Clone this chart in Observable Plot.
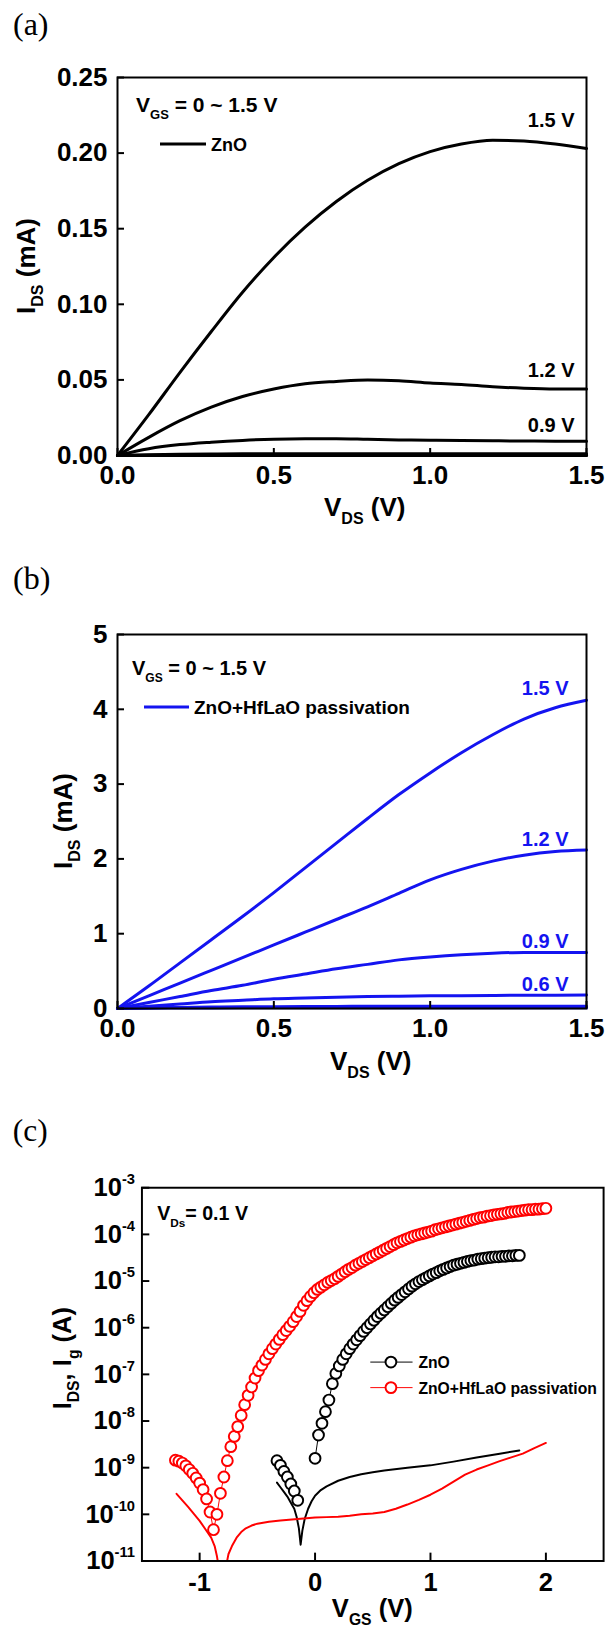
<!DOCTYPE html>
<html><head><meta charset="utf-8">
<script src="https://cdn.jsdelivr.net/npm/d3@7"></script>
<script src="https://cdn.jsdelivr.net/npm/@observablehq/plot@0.6"></script>
<style>
html,body{margin:0;padding:0;background:#fff;overflow:hidden;}
#root{position:relative;width:609px;height:1636px;overflow:hidden;background:#fff;}
.panel{position:absolute;left:0;}
</style></head><body><div id="root"></div>
<script>
const FONT = "'Liberation Sans', Arial, Helvetica, sans-serif";
const SERIF = "'Liberation Serif', 'Times New Roman', serif";
const BLUE = "#1414f0", RED = "#ff0000";

// ---------- (a) ZnO output curves, I_DS in mA ----------
const vdsA = [0, 0.1, 0.2, 0.3, 0.4, 0.5, 0.6, 0.7, 0.8, 0.9, 1.0, 1.1, 1.2, 1.3, 1.4, 1.5];
const a15 = [0, 0.027, 0.055, 0.082, 0.108, 0.131, 0.151, 0.168, 0.182, 0.193, 0.201, 0.206, 0.2085, 0.208, 0.206, 0.203];
const a12 = [0, 0.012, 0.023, 0.032, 0.039, 0.044, 0.0475, 0.049, 0.050, 0.0495, 0.048, 0.047, 0.0455, 0.0445, 0.044, 0.044];
const a09 = [0, 0.0045, 0.0072, 0.0088, 0.0100, 0.0108, 0.0111, 0.0111, 0.0107, 0.0103, 0.0101, 0.0099, 0.0097, 0.0096, 0.0095, 0.0095];
const a06 = [0, 0.0005, 0.0008, 0.001, 0.0011, 0.0012, 0.0012, 0.0012, 0.0012, 0.0012, 0.0012, 0.0012, 0.0012, 0.0012, 0.0012, 0.0012];
const a03 = [0, 0.0001, 0.0002, 0.0002, 0.0002, 0.0002, 0.0002, 0.0002, 0.0002, 0.0002, 0.0002, 0.0002, 0.0002, 0.0002, 0.0002, 0.0002];
const a00 = [0, 0, 0, 0, 0, 0, 0, 0, 0, 0, 0, 0, 0, 0, 0, 0];
const xTicksA = [0, 0.5, 1.0, 1.5];
const yTicksA = [0, 0.05, 0.10, 0.15, 0.20, 0.25];
const labelsA = ["1.5 V", "1.2 V", "0.9 V"];

// ---------- (b) ZnO + HfLaO passivation, I_DS in mA ----------
const vdsB = [0, 0.1, 0.2, 0.3, 0.4, 0.5, 0.6, 0.7, 0.8, 0.9, 1.0, 1.1, 1.2, 1.3, 1.4, 1.5];
const b15 = [0, 0.30, 0.61, 0.92, 1.23, 1.55, 1.88, 2.21, 2.54, 2.86, 3.15, 3.42, 3.66, 3.87, 4.02, 4.12];
const b12 = [0, 0.17, 0.34, 0.51, 0.68, 0.85, 1.02, 1.19, 1.36, 1.54, 1.72, 1.86, 1.97, 2.05, 2.10, 2.12];
const b09 = [0, 0.08, 0.16, 0.24, 0.31, 0.39, 0.46, 0.53, 0.59, 0.65, 0.69, 0.72, 0.74, 0.75, 0.75, 0.75];
const b06 = [0, 0.03, 0.06, 0.09, 0.11, 0.13, 0.14, 0.15, 0.16, 0.165, 0.17, 0.172, 0.175, 0.177, 0.178, 0.18];
const b03 = [0, 0.01, 0.015, 0.02, 0.022, 0.025, 0.027, 0.028, 0.029, 0.03, 0.03, 0.03, 0.03, 0.03, 0.03, 0.03];
const b00 = [0, 0.004, 0.006, 0.008, 0.009, 0.01, 0.01, 0.01, 0.01, 0.01, 0.01, 0.01, 0.01, 0.01, 0.01, 0.01];
const xTicksB = [0, 0.5, 1.0, 1.5];
const yTicksB = [0, 1, 2, 3, 4, 5];
const labelsB = ["1.5 V", "1.2 V", "0.9 V", "0.6 V"];

// ---------- (c) transfer curves, log10 of current in A ----------
const redV = [-1.21,-1.18,-1.15,-1.12,-1.09,-1.06,-1.03,-1.00,-0.97,-0.94,-0.91,-0.88,-0.85,-0.82,-0.79,-0.76,-0.73,-0.70,-0.67,-0.64,-0.61,-0.58,-0.55,-0.52,-0.49,-0.46,-0.43,-0.40,-0.37,-0.34,-0.31,-0.28,-0.25,-0.22,-0.19,-0.16,-0.13,-0.10,-0.07,-0.04,-0.01,0.02,0.05,0.08,0.11,0.14,0.17,0.20,0.23,0.26,0.29,0.32,0.35,0.38,0.41,0.44,0.47,0.50,0.53,0.56,0.59,0.62,0.65,0.68,0.71,0.74,0.77,0.80,0.83,0.86,0.89,0.92,0.95,0.98,1.01,1.04,1.07,1.10,1.13,1.16,1.19,1.22,1.25,1.28,1.31,1.34,1.37,1.40,1.43,1.46,1.49,1.52,1.55,1.58,1.61,1.64,1.67,1.70,1.73,1.76,1.79,1.82,1.85,1.88,1.91,1.94,1.97,2.00];
const redLog = [-8.84,-8.86,-8.90,-8.96,-9.04,-9.12,-9.22,-9.33,-9.47,-9.67,-9.95,-10.33,-10.0,-9.55,-9.2,-8.85,-8.55,-8.33,-8.12,-7.88,-7.65,-7.45,-7.27,-7.08,-6.92,-6.8,-6.68,-6.56,-6.45,-6.35,-6.25,-6.15,-6.06,-5.97,-5.87,-5.76,-5.65,-5.52,-5.42,-5.33,-5.25,-5.18,-5.13,-5.08,-5.03,-4.99,-4.95,-4.9,-4.85,-4.8,-4.75,-4.71,-4.66,-4.62,-4.58,-4.54,-4.5,-4.46,-4.42,-4.38,-4.34,-4.3,-4.26,-4.22,-4.18,-4.15,-4.12,-4.09,-4.06,-4.03,-4.01,-3.99,-3.97,-3.95,-3.93,-3.9,-3.88,-3.86,-3.84,-3.82,-3.8,-3.78,-3.76,-3.74,-3.72,-3.7,-3.68,-3.66,-3.64,-3.63,-3.61,-3.6,-3.58,-3.57,-3.56,-3.55,-3.53,-3.52,-3.51,-3.5,-3.49,-3.48,-3.47,-3.47,-3.46,-3.46,-3.45,-3.44];
const blackVOff = [-0.33,-0.30,-0.27,-0.24,-0.21,-0.18,-0.15];
const blackLogOff = [-8.85,-8.95,-9.08,-9.2,-9.35,-9.5,-9.7];
const blackV = [0.00,0.03,0.06,0.09,0.12,0.15,0.18,0.21,0.24,0.27,0.30,0.33,0.36,0.39,0.42,0.45,0.48,0.51,0.54,0.57,0.60,0.63,0.66,0.69,0.72,0.75,0.78,0.81,0.84,0.87,0.90,0.93,0.96,0.99,1.02,1.05,1.08,1.11,1.14,1.17,1.20,1.23,1.26,1.29,1.32,1.35,1.38,1.41,1.44,1.47,1.50,1.53,1.56,1.59,1.62,1.65,1.68,1.71,1.74,1.77];
const blackLog = [-8.8,-8.3,-8.05,-7.8,-7.55,-7.2,-6.98,-6.82,-6.68,-6.56,-6.45,-6.35,-6.26,-6.17,-6.08,-6.0,-5.92,-5.84,-5.76,-5.69,-5.62,-5.55,-5.48,-5.41,-5.35,-5.29,-5.23,-5.17,-5.11,-5.06,-5.01,-4.97,-4.93,-4.89,-4.85,-4.82,-4.78,-4.75,-4.72,-4.69,-4.66,-4.64,-4.62,-4.6,-4.58,-4.56,-4.55,-4.53,-4.52,-4.51,-4.5,-4.49,-4.48,-4.48,-4.47,-4.47,-4.46,-4.46,-4.45,-4.45];
const igBlackV = [-0.33,-0.30,-0.27,-0.24,-0.21,-0.18,-0.16,-0.14,-0.125,-0.11,-0.09,-0.06,-0.03,0.0,0.05,0.1,0.2,0.3,0.4,0.5,0.6,0.8,1.0,1.2,1.4,1.6,1.77];
const igBlackLog = [-9.32,-9.42,-9.52,-9.62,-9.75,-9.88,-10.05,-10.3,-10.65,-10.35,-10.1,-9.88,-9.72,-9.6,-9.48,-9.4,-9.28,-9.2,-9.14,-9.1,-9.06,-9.0,-8.95,-8.87,-8.78,-8.7,-8.63];
const igRedV = [-1.2,-1.15,-1.1,-1.05,-1.0,-0.95,-0.9,-0.87,-0.85,-0.83,-0.8,-0.77,-0.75,-0.72,-0.68,-0.64,-0.6,-0.55,-0.5,-0.4,-0.3,-0.2,-0.1,0.0,0.1,0.2,0.3,0.4,0.5,0.6,0.7,0.8,0.9,1.0,1.1,1.2,1.3,1.4,1.5,1.6,1.7,1.8,1.9,2.0];
const igRedLog = [-9.56,-9.7,-9.84,-9.99,-10.14,-10.32,-10.5,-10.68,-10.9,-11.2,-11.8,-11.1,-10.85,-10.68,-10.5,-10.38,-10.3,-10.24,-10.2,-10.16,-10.13,-10.11,-10.09,-10.07,-10.06,-10.05,-10.03,-10.0,-9.98,-9.95,-9.88,-9.79,-9.69,-9.58,-9.45,-9.3,-9.15,-9.04,-8.95,-8.86,-8.78,-8.7,-8.58,-8.47];
const xTicksC = [-1, 0, 1, 2];
const yTicksC = [1e-11, 1e-10, 1e-9, 1e-8, 1e-7, 1e-6, 1e-5, 1e-4, 1e-3];
const legendC = ["ZnO", "ZnO+HfLaO passivation"];

// ---------- helpers ----------
const root = document.getElementById("root");
function place(svg, top) {
  const d = document.createElement("div");
  d.className = "panel"; d.style.top = top + "px";
  d.appendChild(svg); root.appendChild(d);
}
function label(svg, {x, y, text, size, fill = "black", weight = "bold", family = FONT}) {
  return d3.select(svg).append("text").attr("x", x).attr("y", y)
    .attr("font-family", family).attr("font-weight", weight).attr("font-size", size)
    .attr("fill", fill).attr("text-anchor", "start").text(text);
}
function rich(svg, {x, y, parts, size, subSize, shift, fill = "black", anchor = "start", rotate = false, weight = "bold", family = FONT}) {
  const t = d3.select(svg).append("text")
    .attr("font-family", family).attr("font-weight", weight).attr("font-size", size)
    .attr("fill", fill).attr("text-anchor", anchor);
  if (rotate) t.attr("transform", `translate(${x},${y}) rotate(-90)`);
  else t.attr("x", x).attr("y", y);
  let cur = 0;
  for (const [s, kind] of parts) {
    const target = kind === "sub" ? shift : kind === "sup" ? -shift : 0;
    const ts = t.append("tspan").text(s).attr("dy", target - cur);
    if (kind) ts.attr("font-size", subSize);
    cur = target;
  }
  return t;
}
function rows(v, series) {
  return series.flatMap(([name, arr]) => arr.map((val, i) => ({v: v[i], i: val, s: name})));
}
const baseStyle = {fontFamily: FONT, fontWeight: "bold", fontSize: "26px", color: "black", background: "transparent", overflow: "visible"};

// ---------- panel (a) ----------
{
  const H = 545, mt = 77, mb = 90, ml = 117, mr = 23;
  const fh = H - mt - mb, fw = 609 - ml - mr;
  const data = rows(vdsA, [["1.5", a15], ["1.2", a12], ["0.9", a09], ["0.6", a06], ["0.3", a03], ["0", a00]]);
  const svg = Plot.plot({
    width: 609, height: H, marginTop: mt, marginBottom: mb, marginLeft: ml, marginRight: mr,
    style: baseStyle,
    x: {domain: [0, 1.5]}, y: {domain: [0, 0.25]},
    marks: [
      Plot.line(data, {x: "v", y: "i", z: "s", stroke: "black", strokeWidth: 3, curve: "monotone-x"}),
      Plot.frame({stroke: "black", strokeWidth: 2}),
      Plot.tickX(xTicksA, {x: d => d, insetTop: fh - 7, stroke: "black", strokeWidth: 2}),
      Plot.tickY(yTicksA, {y: d => d, insetRight: fw - 7, stroke: "black", strokeWidth: 2}),
      Plot.axisX({ticks: xTicksA, tickSize: 0, tickPadding: 10, tickFormat: d3.format(".1f"), label: null, fontSize: 26, fontWeight: "bold"}),
      Plot.axisY({ticks: yTicksA, tickSize: 0, tickPadding: 10, tickFormat: d3.format(".2f"), label: null, fontSize: 26, fontWeight: "bold"}),
      Plot.text(labelsA, {x: 1.5, y: [0.2216, 0.0562, 0.0198], text: d => d, textAnchor: "end", dx: -12, fontSize: 20, fontWeight: "bold", fill: "black"})
    ]
  });
  label(svg, {x: 13, y: 35, text: "(a)", size: 32, weight: "normal", family: SERIF});
  rich(svg, {x: 136, y: 112, size: 21, subSize: 13, shift: 7, parts: [["V"], ["GS", "sub"], [" = 0 ~ 1.5 V"]]});
  d3.select(svg).append("line").attr("x1", 160).attr("x2", 206).attr("y1", 144).attr("y2", 144).attr("stroke", "black").attr("stroke-width", 3);
  label(svg, {x: 211, y: 150.5, text: "ZnO", size: 18});
  rich(svg, {x: 35, y: 266, rotate: true, anchor: "middle", size: 26, subSize: 16, shift: 8, parts: [["I"], ["DS", "sub"], [" (mA)"]]});
  rich(svg, {x: 324, y: 516, size: 26, subSize: 16, shift: 8, parts: [["V"], ["DS", "sub"], [" (V)"]]});
  place(svg, 0);
}

// ---------- panel (b) ----------
{
  const H = 545, mt = 89, mb = 82, ml = 117, mr = 23;
  const fh = H - mt - mb, fw = 609 - ml - mr;
  const data = rows(vdsB, [["1.5", b15], ["1.2", b12], ["0.9", b09], ["0.6", b06], ["0.3", b03], ["0", b00]]);
  const svg = Plot.plot({
    width: 609, height: H, marginTop: mt, marginBottom: mb, marginLeft: ml, marginRight: mr,
    style: baseStyle,
    x: {domain: [0, 1.5]}, y: {domain: [0, 5]},
    marks: [
      Plot.line(data, {x: "v", y: "i", z: "s", stroke: BLUE, strokeWidth: 3, curve: "monotone-x"}),
      Plot.frame({stroke: "black", strokeWidth: 2}),
      Plot.tickX(xTicksB, {x: d => d, insetTop: fh - 7, stroke: "black", strokeWidth: 2}),
      Plot.tickY(yTicksB, {y: d => d, insetRight: fw - 7, stroke: "black", strokeWidth: 2}),
      Plot.axisX({ticks: xTicksB, tickSize: 0, tickPadding: 10, tickFormat: d3.format(".1f"), label: null, fontSize: 26, fontWeight: "bold"}),
      Plot.axisY({ticks: yTicksB, tickSize: 0, tickPadding: 10, tickFormat: d3.format("d"), label: null, fontSize: 26, fontWeight: "bold"}),
      Plot.text(labelsB, {x: 1.5, y: [4.28, 2.26, 0.90, 0.32], text: d => d, textAnchor: "end", dx: -18, fontSize: 20, fontWeight: "bold", fill: BLUE})
    ]
  });
  label(svg, {x: 13, y: 44, text: "(b)", size: 32, weight: "normal", family: SERIF});
  rich(svg, {x: 132, y: 130, size: 20, subSize: 12, shift: 7, parts: [["V"], ["GS", "sub"], [" = 0 ~ 1.5 V"]]});
  d3.select(svg).append("line").attr("x1", 144).attr("x2", 189).attr("y1", 162).attr("y2", 162).attr("stroke", BLUE).attr("stroke-width", 3);
  label(svg, {x: 194, y: 169, text: "ZnO+HfLaO passivation", size: 19});
  rich(svg, {x: 72, y: 276, rotate: true, anchor: "middle", size: 26, subSize: 16, shift: 8, parts: [["I"], ["DS", "sub"], [" (mA)"]]});
  rich(svg, {x: 330, y: 525, size: 26, subSize: 16, shift: 8, parts: [["V"], ["DS", "sub"], [" (V)"]]});
  place(svg, 545);
}

// ---------- panel (c) ----------
{
  const H = 546, mt = 99, mb = 67, ml = 144, mr = 6, W = 620;
  const fh = H - mt - mb, fw = W - ml - mr;
  const red = redV.map((v, i) => ({v, y: 10 ** redLog[i]}));
  const blk = [...blackVOff.map((v, i) => ({v, y: 10 ** blackLogOff[i], s: "off"})),
               ...blackV.map((v, i) => ({v, y: 10 ** blackLog[i], s: "on"}))];
  const igB = igBlackV.map((v, i) => ({v, y: 10 ** igBlackLog[i]}));
  const igR = igRedV.map((v, i) => ({v, y: 10 ** igRedLog[i]}));
  const svg = Plot.plot({
    width: W, height: H, marginTop: mt, marginBottom: mb, marginLeft: ml, marginRight: mr,
    style: baseStyle,
    x: {domain: [-1.5, 2.5]}, y: {type: "log", domain: [1e-11, 1e-3]},
    marks: [
      Plot.line(igB, {x: "v", y: "y", stroke: "black", strokeWidth: 2, clip: true}),
      Plot.line(igR, {x: "v", y: "y", stroke: RED, strokeWidth: 2, clip: true}),
      Plot.line(blk, {x: "v", y: "y", z: "s", stroke: "black", strokeWidth: 1}),
      Plot.dot(blk, {x: "v", y: "y", r: 5.5, stroke: "black", strokeWidth: 2, fill: "white"}),
      Plot.line(red, {x: "v", y: "y", stroke: RED, strokeWidth: 1}),
      Plot.dot(red, {x: "v", y: "y", r: 5.5, stroke: RED, strokeWidth: 2, fill: "white"}),
      Plot.frame({stroke: "black", strokeWidth: 2}),
      Plot.tickX(xTicksC, {x: d => d, insetTop: fh - 8, stroke: "black", strokeWidth: 2}),
      Plot.tickY(yTicksC, {y: d => d, insetRight: fw - 8, stroke: "black", strokeWidth: 2}),
      Plot.axisX({ticks: xTicksC, tickSize: 0, tickPadding: 12, tickFormat: d => d < 0 ? "-" + Math.abs(d) : String(d), label: null, fontSize: 26, fontWeight: "bold"}),
      Plot.axisY({ticks: yTicksC, tickSize: 0, tickPadding: 7, tickFormat: d => "10^" + Math.round(Math.log10(d)), label: null, fontSize: 26, fontWeight: "bold"})
    ]
  });
  // superscript exponents on the log axis labels
  d3.select(svg).selectAll("text").each(function () {
    const s = this.textContent;
    if (s.startsWith("10^")) {
      const e = s.slice(3);
      this.textContent = "10";
      d3.select(this).append("tspan").attr("dy", -12).attr("font-size", 15).text(e);
    }
  });
  label(svg, {x: 13, y: 52, text: "(c)", size: 32, weight: "normal", family: SERIF});
  rich(svg, {x: 160, y: 132, size: 20, subSize: 12, shift: 7, parts: [["V"], ["Ds", "sub"], ["= 0.1 V"]]});
  const g = d3.select(svg).append("g");
  [["black", 277, legendC[0]], [RED, 303, legendC[1]]].forEach(([c, y, text]) => {
    g.append("line").attr("x1", 377).attr("x2", 420).attr("y1", y).attr("y2", y).attr("stroke", c).attr("stroke-width", 1);
    g.append("circle").attr("cx", 398).attr("cy", y).attr("r", 5.5).attr("stroke", c).attr("stroke-width", 2).attr("fill", "white");
    label(svg, {x: 426, y: y + 6, text, size: 16});
  });
  rich(svg, {x: 72, y: 273, rotate: true, anchor: "middle", size: 26, subSize: 16, shift: 8, parts: [["I"], ["DS", "sub"], [", I"], ["g", "sub"], [" (A)"]]});
  rich(svg, {x: 379, y: 537, anchor: "middle", size: 26, subSize: 16, shift: 8, parts: [["V"], ["GS", "sub"], [" (V)"]]});
  place(svg, 1090);
}
</script>
</body></html>
